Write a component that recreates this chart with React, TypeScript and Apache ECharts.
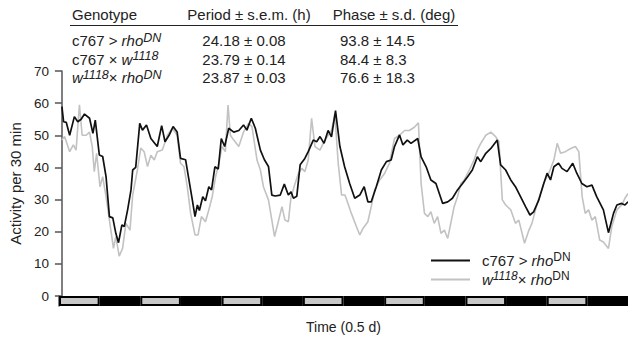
import React, { useEffect, useRef } from "react";
import * as echarts from "echarts";

// Time in hours (0..168 = 7 days), activity per 30 min
const c767Trace: [number, number][] = [
  [0,58.9],[0.5,54.2],[1.3,54],[2.3,50],[3.7,55.8],[4.7,54.2],[5.7,55],[6.7,56.6],[8.2,55.3],[9.2,50.6],[9.9,54.7],[11.1,43.9],[12.1,43.4],[13.1,37.1],[14.1,24.7],[15.1,24.3],[16.0,19.5],[16.8,16.6],[17.8,22.1],[18.5,21.6],[19.5,26.8],[20.5,33],[21.0,39.2],[21.9,40],[23.1,53.7],[23.9,51.6],[25.1,53.2],[26.4,49],[28.3,46.5],[29.6,53],[30.6,48],[31.8,50],[33.0,52.7],[34.2,51],[35.2,42.8],[36.7,42.4],[37.7,36.1],[38.7,29.9],[39.5,24.7],[40.2,28.3],[40.8,26.6],[41.8,30.9],[42.6,29.6],[43.6,34],[44.4,33],[45.4,40.2],[46.4,39.5],[47.3,49],[48.3,46.5],[49.5,52.2],[51.0,51],[52.5,51.5],[53.9,53.2],[54.9,51.6],[56.2,55.3],[57.4,52.2],[58.9,45.4],[60.1,42.4],[61.3,40.3],[62.3,31.4],[63.3,31.1],[64.8,31.4],[66.0,34.8],[67.2,31.4],[68.0,32.4],[68.7,30.4],[69.7,31],[70.7,40.8],[72.1,42.8],[73.1,44.9],[74.6,48.5],[75.6,48],[76.6,49.6],[77.8,47.5],[79.0,51.5],[80.0,49.5],[81.2,57.7],[82.5,46.5],[83.9,40.2],[85.4,35],[86.9,30.4],[88.4,31.4],[89.7,34],[90.8,29.3],[91.8,29.3],[93.3,34],[94.8,39.2],[96.3,41.8],[97.7,42.3],[98.7,46.5],[100.2,50.1],[101.2,47],[102.5,48.5],[103.6,47.5],[105.6,49],[106.6,43.3],[108.1,40.2],[109.5,36.1],[111.0,35],[113.0,28.8],[114.5,29.3],[115.9,30.4],[117.4,33],[118.9,35],[120.4,37.1],[121.8,39.2],[123.3,43.3],[124.3,41.8],[125.8,44.4],[127.3,45.9],[129.2,48.5],[130.2,40.8],[131.7,39.2],[133.2,36.1],[134.6,34],[136.1,30.9],[137.6,27.8],[138.9,25.2],[140.0,26.2],[141.5,29.8],[143.0,35],[144.0,38.2],[145.0,36.1],[146.0,40.2],[147.4,41.3],[148.4,39.7],[149.9,38.7],[151.6,41.3],[152.8,38.2],[154.3,35],[155.8,34],[157.3,34.5],[158.7,30.9],[160.7,26.8],[162.2,19.7],[163.7,25.7],[164.7,28.3],[166.1,28.8],[167.1,28.3],[168.0,29.3]
];

const w1118Trace: [number, number][] = [
  [0,48.5],[0.8,49.6],[2.3,44.9],[3.4,47],[4.2,45.4],[5.2,59.5],[6.0,50],[7.2,50],[8.2,51],[9.0,46.5],[9.6,38.7],[10.3,44.4],[11.3,34],[12.1,37.1],[13.1,30.9],[14.1,23.6],[15.3,14.8],[16.0,18.5],[17.0,12.4],[18.0,14.8],[19.0,22.6],[20.2,20.5],[21.0,31.4],[22.4,39.2],[23.4,46],[24.4,44.9],[25.4,40.3],[26.4,43.8],[27.4,42.3],[28.3,44.9],[29.8,45.4],[31.3,50],[32.8,52.2],[34.2,50],[35.2,41.3],[36.2,40.3],[37.2,34],[38.2,25.7],[39.5,19],[40.4,19],[41.4,24.7],[42.6,23.1],[43.6,26.8],[44.6,30.9],[45.6,37.1],[46.6,41.3],[47.5,46.5],[48.5,44.9],[49.3,59.4],[50.0,50],[51.0,48.5],[52.5,46.5],[53.9,51],[55.4,53.7],[56.4,52.7],[57.9,42.3],[58.9,39.2],[59.8,34],[61.3,29.9],[62.3,23.6],[63.1,18.5],[64.1,22.6],[65.3,27.8],[66.2,23.6],[67.2,23.1],[68.0,30.9],[69.2,35],[70.2,38.2],[71.2,39.7],[72.1,38.7],[73.1,42.3],[74.1,55.3],[75.1,46.5],[76.6,45.4],[77.8,48],[79.0,50],[80.0,51.5],[81.0,56.6],[82.0,41.3],[83.0,31.4],[84.0,31.4],[84.9,28.8],[85.9,25.7],[87.4,21.6],[88.4,19],[89.4,21.1],[90.8,23.1],[91.8,27.8],[92.8,33],[94.3,36.1],[95.8,38.2],[97.2,41.3],[98.7,49],[100.2,50],[101.7,51.5],[103.1,51.5],[104.6,52.5],[105.8,53.9],[106.6,35],[107.6,25.7],[108.6,24.7],[109.5,26.2],[110.5,22.6],[111.5,24.7],[112.5,19.5],[113.5,20.5],[114.5,17.9],[115.4,22.6],[116.4,27.8],[117.4,30.9],[118.4,35],[119.4,36.1],[120.9,39.2],[122.3,42.3],[123.3,45.4],[124.3,47.5],[125.8,50],[127.3,51],[128.7,49.6],[129.7,48],[130.7,29.9],[131.7,28.3],[133.2,26.8],[134.6,22.6],[135.6,23.6],[137.3,16.4],[138.6,20.5],[139.5,22.6],[140.8,27.8],[142.0,31.9],[143.0,35],[144.5,38.2],[146.0,42.3],[147.0,47.5],[148.0,44.4],[149.4,44.9],[151.0,45.9],[152.4,46.5],[153.4,44.9],[154.4,30.9],[155.3,25.7],[156.3,26.8],[157.3,23.6],[158.3,24.7],[159.6,17.4],[160.7,16.8],[162.2,14.8],[163.2,21.6],[164.7,26.8],[166.1,28.3],[167.1,30.4],[168.0,31.9]
];

// Light/dark half-days
const lightDark = ["L","D","L","D","L","D","L","D","L","D","L","D","L","D"];

const yMin = 0;
const yMax = 70;
const yInterval = 10;

// Table
const tableHeaders = ["Genotype", "Period \u00b1 s.e.m. (h)", "Phase \u00b1 s.d. (deg)"];
const genotypeRich = [
  "{n|c767 > }{i|rho}{si|DN}",
  "{n|c767 \u00d7 }{i|w}{si|1118}",
  "{i|w}{si|1118}{n|\u00d7 }{i|rho}{si|DN}",
];
const periods = ["24.18 \u00b1 0.08", "23.79 \u00b1 0.14", "23.87 \u00b1 0.03"];
const phases = ["93.8 \u00b1 14.5", "84.4 \u00b1 8.3", "76.6 \u00b1 18.3"];

const seriesNames = ["c767 > rhoDN", "w1118 \u00d7 rhoDN"];
const legendRich: Record<string, string> = {
  "c767 > rhoDN": "{n|c767 > }{i|rho}{s|DN}",
  "w1118 \u00d7 rhoDN": "{i|w}{si|1118}{n|\u00d7 }{i|rho}{s|DN}",
};

const FONT = '"Liberation Sans", Arial, Helvetica, sans-serif';
const TXT = "#222";

const rich = {
  n: { fontSize: 15, fontFamily: FONT, color: TXT, fill: TXT, lineHeight: 19 },
  i: { fontSize: 15, fontFamily: FONT, fontStyle: "italic", color: TXT, fill: TXT, lineHeight: 19 },
  si: { fontSize: 12.5, fontFamily: FONT, fontStyle: "italic", color: TXT, fill: TXT, verticalAlign: "top", lineHeight: 9 },
};

function textEl(x: number, y: number, text: string, align: string, useRich = false) {
  const style: any = {
    text,
    fill: TXT,
    fontSize: 15,
    fontFamily: FONT,
    align,
    textAlign: align,
    verticalAlign: "middle",
    textVerticalAlign: "middle",
  };
  if (useRich) style.rich = rich;
  return { type: "text", x, y, style, silent: true };
}

export default function App() {
  const ref = useRef<HTMLDivElement>(null);

  useEffect(() => {
    if (!ref.current) return;
    const chart = echarts.init(ref.current, undefined, { renderer: "svg" });

    const rowY = [40.5, 59, 77.5];
    const graphics: any[] = [
      textEl(72, 14, tableHeaders[0], "left"),
      textEl(249, 14, tableHeaders[1], "center"),
      textEl(394, 14, tableHeaders[2], "center"),
      {
        type: "line",
        shape: { x1: 70, y1: 25.5, x2: 458, y2: 25.5 },
        style: { stroke: "#222", lineWidth: 1 },
        silent: true,
      },
    ];
    rowY.forEach((y, k) => {
      graphics.push(textEl(72, y, genotypeRich[k], "left", true));
      graphics.push(textEl(244, y, periods[k], "center"));
      graphics.push(textEl(340, y, phases[k], "left"));
    });

    chart.setOption({
      animation: false,
      backgroundColor: "#fff",
      grid: [
        { left: 59, right: 0, top: 71, height: 225 },
        { left: 59, right: 0, top: 296, height: 10 },
      ],
      xAxis: [
        {
          type: "value",
          gridIndex: 0,
          min: 0,
          max: 168,
          show: false,
        },
        {
          type: "category",
          gridIndex: 1,
          data: lightDark,
          boundaryGap: true,
          axisLine: { show: false },
          axisTick: { show: false },
          axisLabel: { show: false },
          name: "Time (0.5 d)",
          nameLocation: "middle",
          nameGap: 14,
          nameTextStyle: { fontSize: 14, fontFamily: FONT, color: TXT },
        },
      ],
      yAxis: [
        {
          type: "value",
          gridIndex: 0,
          min: yMin,
          max: yMax,
          interval: yInterval,
          axisLine: { show: true, lineStyle: { color: "#555", width: 1.5 } },
          axisTick: { show: true, length: 7, lineStyle: { color: "#555", width: 1.5 } },
          axisLabel: { fontSize: 13.5, fontFamily: FONT, color: TXT, margin: 13 },
          splitLine: { show: false },
          name: "Activity per 30 min",
          nameLocation: "middle",
          nameGap: 36,
          nameTextStyle: { fontSize: 15, fontFamily: FONT, color: TXT },
        },
        {
          type: "value",
          gridIndex: 1,
          min: 0,
          max: 1,
          axisLine: { show: true, lineStyle: { color: "#555", width: 1.5 } },
          axisTick: { show: false },
          axisLabel: { show: false },
          splitLine: { show: false },
        },
      ],
      legend: {
        orient: "vertical",
        left: 426,
        top: 246,
        itemWidth: 39,
        itemHeight: 2,
        itemGap: 2,
        icon: "rect",
        data: [seriesNames[0], seriesNames[1]],
        formatter: (name: string) => legendRich[name] || name,
        textStyle: {
          fontSize: 15,
          fontFamily: FONT,
          color: TXT,
          padding: [0, 0, 0, 7],
          rich: {
            n: { fontSize: 15, fontFamily: FONT, color: TXT, lineHeight: 19 },
            i: { fontSize: 15, fontFamily: FONT, fontStyle: "italic", color: TXT, lineHeight: 19 },
            si: { fontSize: 12, fontFamily: FONT, fontStyle: "italic", color: TXT, verticalAlign: "top", lineHeight: 9 },
            s: { fontSize: 12, fontFamily: FONT, color: TXT, verticalAlign: "top", lineHeight: 9 },
          },
        },
      },
      series: [
        {
          name: seriesNames[1],
          type: "line",
          xAxisIndex: 0,
          yAxisIndex: 0,
          data: w1118Trace,
          symbol: "none",
          showSymbol: false,
          lineStyle: { color: "#c2c2c2", width: 1.6 },
          itemStyle: { color: "#c2c2c2" },
          z: 2,
        },
        {
          name: seriesNames[0],
          type: "line",
          xAxisIndex: 0,
          yAxisIndex: 0,
          data: c767Trace,
          symbol: "none",
          showSymbol: false,
          lineStyle: { color: "#111", width: 1.7 },
          itemStyle: { color: "#111" },
          z: 3,
        },
        {
          type: "bar",
          xAxisIndex: 1,
          yAxisIndex: 1,
          barWidth: "100%",
          barCategoryGap: 0,
          silent: true,
          data: lightDark.map((p) => ({
            value: 1,
            itemStyle:
              p === "L"
                ? { color: "#c8c8c8", borderColor: "#000", borderWidth: 2 }
                : { color: "#000", borderColor: "#000", borderWidth: 0 },
          })),
        },
      ],
      graphic: graphics,
    });

    return () => chart.dispose();
  }, []);

  return (
    <div
      ref={ref}
      style={{ position: "fixed", left: 0, top: 0, width: 628, height: 343 }}
    />
  );
}
